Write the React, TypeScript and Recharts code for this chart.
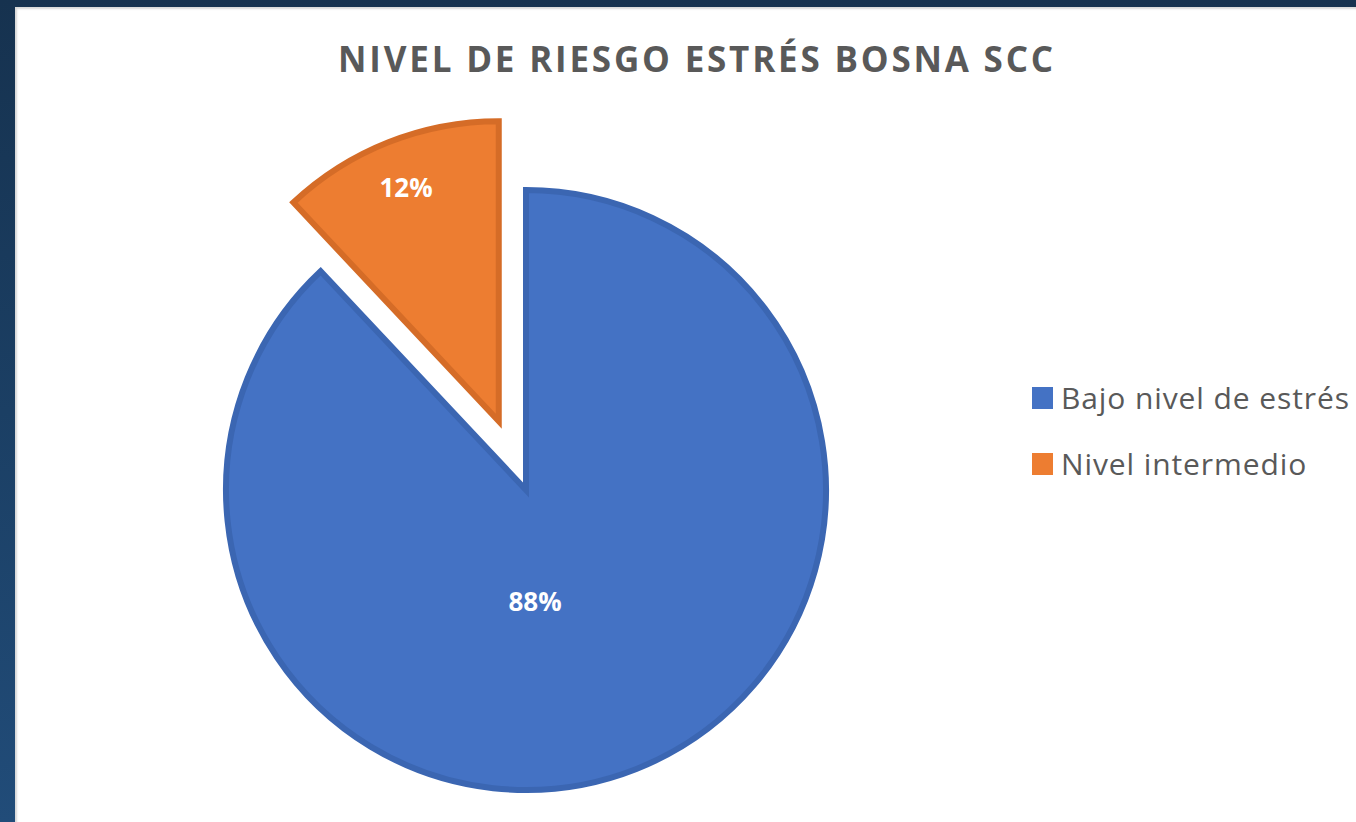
import React from 'react';
import { PieChart, Pie, Cell } from 'recharts';

const categories = ['Bajo nivel de estrés', 'Nivel intermedio'];
const values = [88, 12];
const fills = ['#4472C4', '#ED7D31'];
const strokes = ['#3B66B2', '#D56C27'];
const explodedIndex = 1;

const data = categories.map((name, i) => ({ name, value: values[i] }));

const RAD = Math.PI / 180;
const W = 1341;
const H = 815;
const CX = 511;
const CY = 483;
const R = 300;
const EXPLODE = 74;

const makeLabel = (onlyIndex: number) => (props: any) => {
  const { cx, cy, midAngle, outerRadius, index, value } = props;
  if (index !== onlyIndex) return null;
  let x: number;
  let y: number;
  if (index === explodedIndex) {
    x = cx + outerRadius * 0.84 * Math.cos(-midAngle * RAD);
    y = cy + outerRadius * 0.84 * Math.sin(-midAngle * RAD);
  } else {
    x = cx + outerRadius * 0.03;
    y = cy + outerRadius * 0.37;
  }
  return (
    <text
      x={x}
      y={y}
      fill="#ffffff"
      textAnchor="middle"
      dominantBaseline="central"
      fontFamily="'Open Sans', sans-serif"
      fontWeight={700}
      fontSize={26}
    >
      {`${value}%`}
    </text>
  );
};

export default function App() {
  const total = values.reduce((a, b) => a + b, 0);
  let acc = 0;
  for (let i = 0; i < explodedIndex; i++) acc += values[i];
  const midFrac = (acc + values[explodedIndex] / 2) / total;
  const midAngle = 90 - 360 * midFrac;
  const ox = EXPLODE * Math.cos(midAngle * RAD);
  const oy = -EXPLODE * Math.sin(midAngle * RAD);

  return (
    <div
      style={{
        position: 'fixed',
        inset: 0,
        background: 'linear-gradient(to bottom, #16324F 0%, #1B3F64 50%, #214C79 100%)',
        overflow: 'hidden',
      }}
    >
      <div
        style={{
          position: 'absolute',
          left: 15,
          top: 7,
          width: W,
          height: H,
          background: '#ffffff',
          boxShadow: 'inset 2px 2px 2px #d8d8d8',
        }}
      >
        <PieChart width={W} height={H} margin={{ top: 0, right: 0, bottom: 0, left: 0 }}>
          <text
            x={682}
            y={51}
            textAnchor="middle"
            dominantBaseline="central"
            fill="#595959"
            fontFamily="'Open Sans', sans-serif"
            fontWeight={700}
            fontSize={35}
            letterSpacing={2.8}
          >
            NIVEL DE RIESGO ESTRÉS BOSNA SCC
          </text>
          <Pie
            data={data}
            dataKey="value"
            nameKey="name"
            cx={CX}
            cy={CY}
            outerRadius={R}
            startAngle={90}
            endAngle={-270}
            isAnimationActive={false}
            labelLine={false}
            label={makeLabel(0)}
          >
            {data.map((d, i) => (
              <Cell
                key={`a-${i}`}
                fill={i === explodedIndex ? 'none' : fills[i]}
                stroke={i === explodedIndex ? 'none' : strokes[i]}
                strokeWidth={6}
              />
            ))}
          </Pie>
          <Pie
            data={data}
            dataKey="value"
            nameKey="name"
            cx={CX + ox}
            cy={CY + oy}
            outerRadius={R}
            startAngle={90}
            endAngle={-270}
            isAnimationActive={false}
            labelLine={false}
            label={makeLabel(explodedIndex)}
          >
            {data.map((d, i) => (
              <Cell
                key={`b-${i}`}
                fill={i === explodedIndex ? fills[i] : 'none'}
                stroke={i === explodedIndex ? strokes[i] : 'none'}
                strokeWidth={6}
              />
            ))}
          </Pie>
          {categories.map((c, i) => (
            <g key={c}>
              <rect x={1017} y={380 + i * 66} width={21} height={22} fill={fills[i]} />
              <text
                x={1046}
                y={390 + i * 66}
                dominantBaseline="central"
                fill="#595959"
                fontFamily="'Open Sans', sans-serif"
                fontSize={30}
                letterSpacing={0.9}
              >
                {c}
              </text>
            </g>
          ))}
        </PieChart>
      </div>
    </div>
  );
}
